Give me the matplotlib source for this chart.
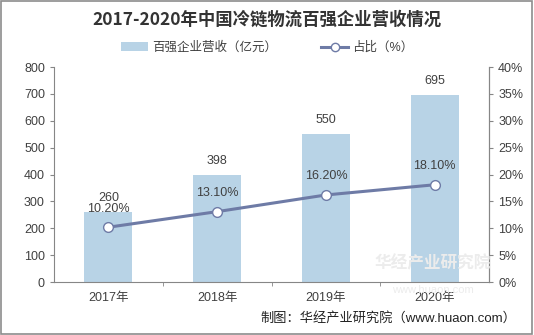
import matplotlib
matplotlib.use("Agg")
import matplotlib.pyplot as plt
from matplotlib.patches import Rectangle
from matplotlib.lines import Line2D
from matplotlib.patches import Patch

plt.rcParams['font.family'] = ['Liberation Sans', 'Noto Sans CJK SC', 'DejaVu Sans']

years = ["2017年", "2018年", "2019年", "2020年"]
revenue = [260, 398, 550, 695]
share = [10.2, 13.1, 16.2, 18.1]
share_labels = ["10.20%", "13.10%", "16.20%", "18.10%"]
left_ticks = [0, 100, 200, 300, 400, 500, 600, 700, 800]
right_ticks = [0, 5, 10, 15, 20, 25, 30, 35, 40]

bar_color = "#b8d3e6"
line_color = "#6e7ba6"
text_color = "#404040"

fig = plt.figure(figsize=(5.34, 3.35), dpi=100)
ax = fig.add_axes([0.101, 0.158, 0.815, 0.642])
x = list(range(len(years)))
ax.bar(x, revenue, width=0.44, color=bar_color, zorder=1)
ax.set_xlim(-0.5, len(years) - 0.5)
ax.set_ylim(0, 800)
ax.set_yticks(left_ticks)
ax.set_xticks(x)
ax.set_xticklabels(years)
ax.set_xticks([0.5, 1.5, 2.5], minor=True)
ax.tick_params(axis='x', which='major', length=0, labelsize=9, colors=text_color, pad=7)
ax.tick_params(axis='x', which='minor', length=3, color="#868686", direction='out')
ax.tick_params(axis='y', length=3, color="#868686", labelsize=9, labelcolor=text_color)
ax.spines['top'].set_visible(False)
for s in ['left', 'right', 'bottom']:
    ax.spines[s].set_color("#868686")
    ax.spines[s].set_linewidth(0.8)

for xi, v in zip(x, revenue):
    ax.annotate(str(v), (xi, v), xytext=(0, 6), textcoords='offset points',
                ha='center', va='bottom', fontsize=9, color=text_color)

ax2 = ax.twinx()
ax2.set_position(ax.get_position())
ax2.set_ylim(0, 40)
ax2.set_yticks(right_ticks)
ax2.set_yticklabels([f"{t}%" for t in right_ticks])
ax2.tick_params(axis='y', length=3, color="#868686", labelsize=9, labelcolor=text_color)
for s in ['top', 'left', 'bottom']:
    ax2.spines[s].set_visible(False)
ax2.spines['right'].set_color("#868686")
ax2.spines['right'].set_linewidth(0.8)
ax2.plot(x, share, color=line_color, lw=2.2, marker='o', markersize=7,
         markerfacecolor='white', markeredgecolor=line_color, markeredgewidth=1.0, zorder=3)
for xi, v, lab in zip(x, share, share_labels):
    ax2.annotate(lab, (xi, v), xytext=(0, 9), textcoords='offset points',
                 ha='center', va='bottom', fontsize=9, color=text_color)

fig.text(0.5, 0.94, "2017-2020年中国冷链物流百强企业营收情况", ha='center', va='center',
         fontsize=12.5, fontweight='bold', color="#333333",
         family=['Noto Sans CJK SC', 'DejaVu Sans'])

handles = [Patch(facecolor=bar_color, edgecolor='none'),
           Line2D([0], [0], color=line_color, lw=2.2, marker='o', markersize=6,
                  markerfacecolor='white', markeredgecolor=line_color)]
fig.legend(handles, ["百强企业营收（亿元）", "占比（%）"], loc='center', bbox_to_anchor=(0.5, 0.857),
           ncol=2, frameon=False, fontsize=9, handlelength=2.2, columnspacing=3.5,
           handletextpad=0.3, labelcolor=text_color)

# watermark
fig.text(0.81, 0.215, "华经产业研究院", ha='center', va='center', fontsize=12,
         fontweight='bold', color="#ececec", zorder=0)
fig.text(0.81, 0.135, "www.huaon.com", ha='center', va='center', fontsize=8,
         color="#ececec", zorder=0)

fig.text(0.967, 0.05, "制图：华经产业研究院（www.huaon.com）", ha='right', va='center',
         fontsize=9.5, color="#222222")

fig.patches.append(Rectangle((0.002, 0.003), 0.995, 0.993, transform=fig.transFigure,
                             fill=False, edgecolor="#8c8c8c", linewidth=1.2))

fig.savefig("out.png", dpi=100)
